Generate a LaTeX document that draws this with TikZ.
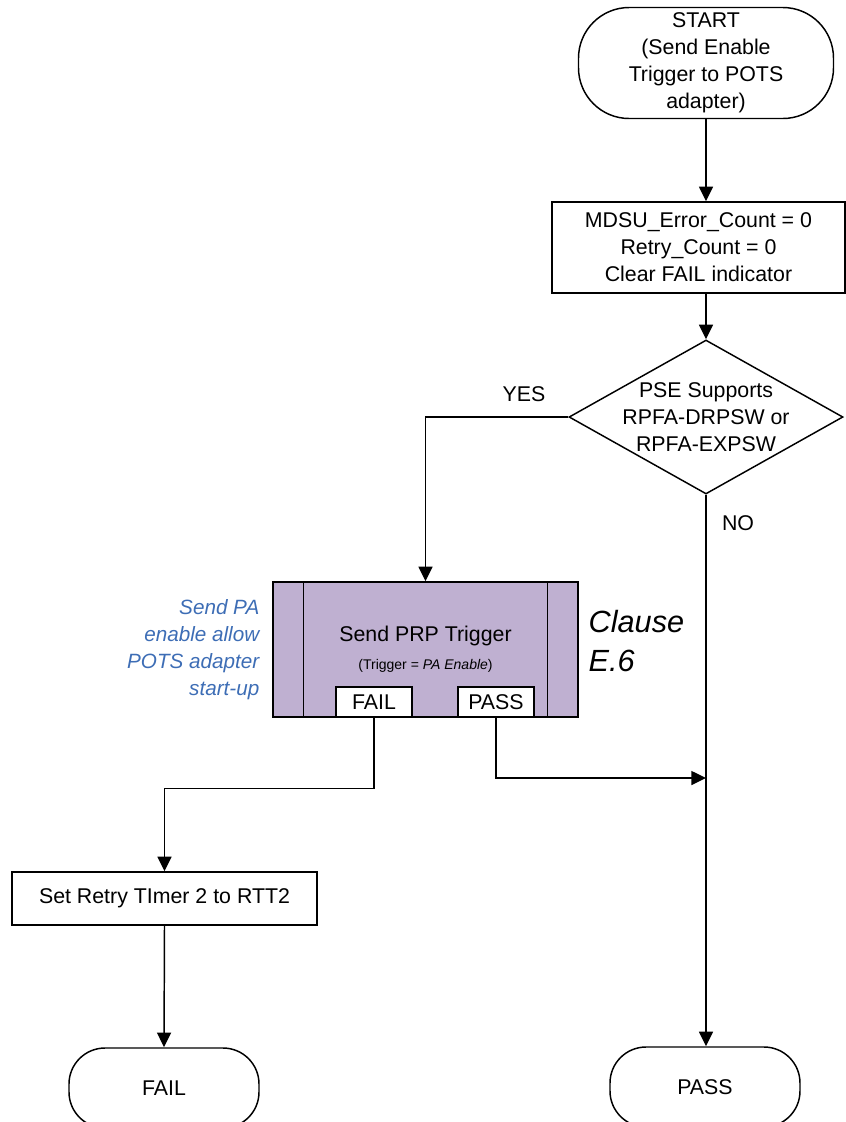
\documentclass[tikz,border=0pt]{standalone}
\usepackage{fontspec}
\setmainfont{Liberation Sans}
\usetikzlibrary{shapes.geometric, arrows.meta, positioning, calc}
\definecolor{prpfill}{HTML}{BFB0D1}
\definecolor{noteblue}{HTML}{3D6DB5}

\begin{document}
\begin{tikzpicture}[
    x=0.75pt, y=-0.75pt,
    every node/.style={font=\fontsize{16}{20.25}\selectfont},
    terminal/.style={draw, rounded corners=38pt, minimum width=191.25pt, minimum height=83.25pt, align=center, line width=1.1pt},
    endterm/.style={draw, rounded corners=27pt, minimum width=142.5pt, minimum height=60pt, line width=1.1pt},
    procbox/.style={draw, minimum width=219.75pt, minimum height=68.25pt, align=center, line width=1.1pt},
    decision/.style={draw, diamond, aspect=1.78, inner sep=0pt, minimum width=205.5pt, minimum height=115.5pt, line width=1.1pt},
    predef/.style={draw, fill=prpfill, minimum width=228.75pt, minimum height=101.25pt, align=center, line width=1.1pt},
    flag/.style={draw, fill=white, minimum width=57pt, minimum height=22.5pt, inner sep=0pt, line width=1.1pt},
    note/.style={font=\fontsize{15.5}{20.25}\selectfont\itshape, text=noteblue, align=right},
    arrow/.style={-{Triangle[length=11pt, width=10.5pt]}, line width=1.1pt}
]
    \clip (0,0) rectangle (846,1122);

    \node[terminal] (start) at (706,63) {START\\(Send Enable\\Trigger to POTS\\adapter)};
    \node[procbox] (init) at (698.5,247.5) {MDSU\_Error\_Count = 0\\Retry\_Count = 0\\Clear FAIL indicator};
    \node[decision] (dec) at (706,417) {};
    \node[align=center] (dectext) at (dec.center) {PSE Supports\\RPFA-DRPSW or\\RPFA-EXPSW};

    \node (yes) at (524,394) {YES};
    \node (no) at (738,523) {NO};

    % predefined process block
    \node[predef] (prp) at (425.5,649.5) {Send PRP Trigger\\[1pt]{\fontsize{10.5}{12}\selectfont(Trigger = \textit{PA Enable})}};
    \draw[line width=1.1pt] ($(prp.north west)+(31,0)$) -- ($(prp.south west)+(31,0)$);
    \draw[line width=1.1pt] ($(prp.north east)+(-31,0)$) -- ($(prp.south east)+(-31,0)$);
    \node[flag, anchor=south] (failflag) at ($(prp.south)+(-51.5,0)$) {FAIL};
    \node[flag, anchor=south] (passflag) at ($(prp.south)+(70.5,0)$) {PASS};

    \node[note, anchor=east] (prpnote) at (264,650) {Send PA\\enable allow\\POTS adapter\\start-up};
    \node[align=left, anchor=west, font=\fontsize{23}{29}\selectfont\itshape] (clause) at (584,641) {Clause\\E.6};

    \node[procbox, minimum width=228.75pt, minimum height=39.75pt] (retry) at (164.5,898.5) {Set Retry TImer 2 to RTT2};
    \node[endterm] (failend) at (164,1088) {FAIL};
    \node[endterm] (passend) at (705,1087) {PASS};

    \coordinate (merge) at (706,778);

    \draw[arrow] (start.south) -- (start.south |- init.north);
    \draw[arrow] (dec.north |- init.south) -- (dec.north);
    \draw[arrow] (dec.west) -| (prp.north);
    \draw[arrow] (dec.south) -- (dec.south |- passend.north);
    \draw[arrow] (failflag.south) |- ($(retry.north)+(0,-83)$) -- (retry.north);
    \draw[arrow] (passflag.south) |- (merge);
    \draw[arrow] (retry.south) -- (failend.north);
\end{tikzpicture}
\end{document}
